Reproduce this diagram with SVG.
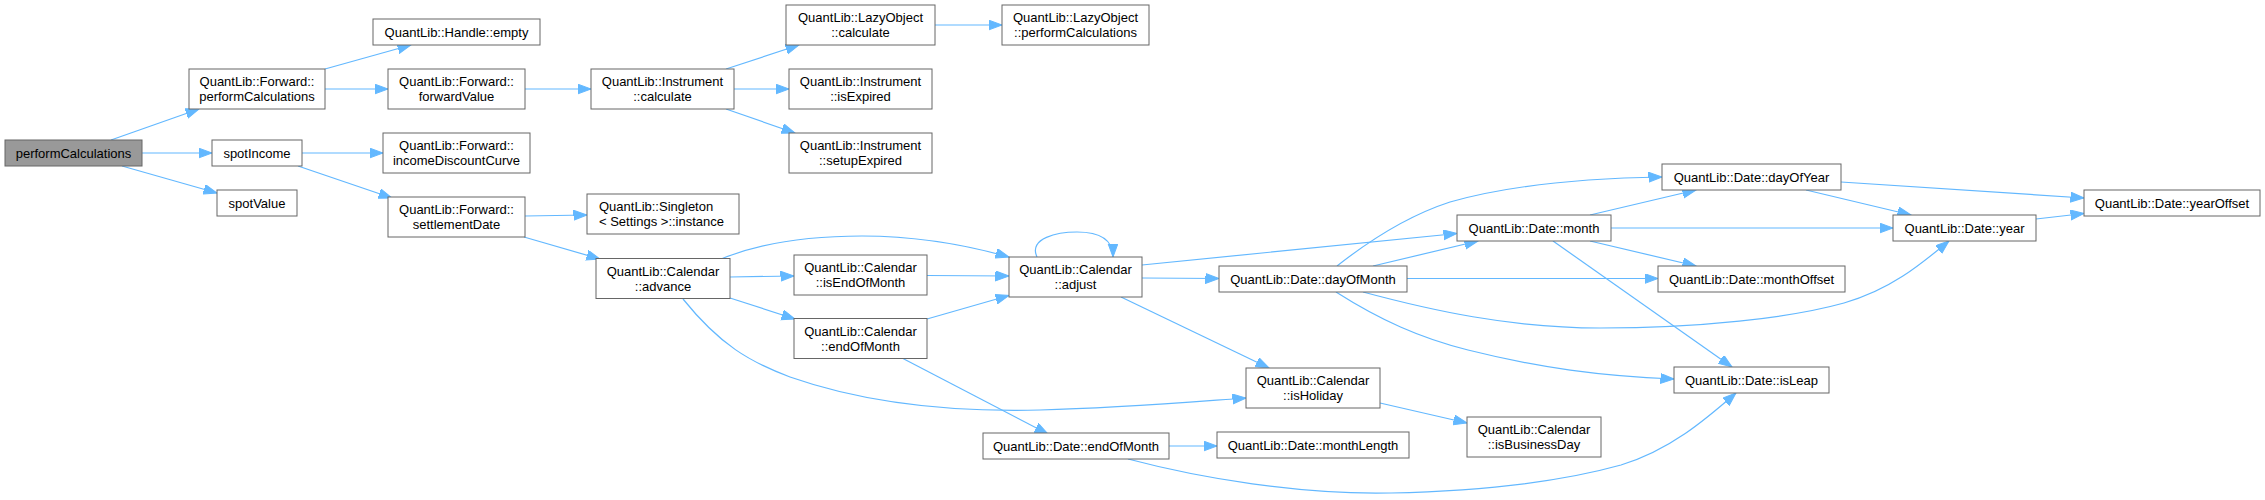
<svg xmlns="http://www.w3.org/2000/svg" width="2265" height="500" viewBox="0 0 2265 500">
<style>
.n rect{fill:#ffffff;stroke:#666666;stroke-width:1}
.n text{font-family:"Liberation Sans",Arial,sans-serif;font-size:13px;fill:#000000;text-anchor:middle}
#root rect{fill:#999999}
.e path{fill:none;stroke:#63b8ff;stroke-width:1.2;marker-end:url(#arr)}
</style>
<defs>
<marker id="arr" markerUnits="userSpaceOnUse" markerWidth="15" markerHeight="11" refX="13.5" refY="5" orient="auto">
<path d="M0,0 L13.5,5 L0,10 z" fill="#63b8ff" stroke="#63b8ff" stroke-width="1"/>
</marker>
</defs>
<rect width="2265" height="500" fill="#ffffff"/>
<g id="edges" class="e">
<path d="M111,140 L199,109"/>
<path d="M142,153 L212,153"/>
<path d="M122,166 L217,193"/>
<path d="M325,69 L411,45"/>
<path d="M325,89 L388,89"/>
<path d="M525,89 L591,89"/>
<path d="M302,153 L383,153"/>
<path d="M298,166 L392,198"/>
<path d="M726,69 L799,45"/>
<path d="M734,89 L789,89"/>
<path d="M726,109 L795,133"/>
<path d="M935,25 L1002,25"/>
<path d="M525,216 L587,215"/>
<path d="M524,237 L600,259"/>
<path d="M721,259 C760,243 810,236 862,236 C920,236 970,246 1009,257"/>
<path d="M730,277 L794,276"/>
<path d="M730,298 L795,319"/>
<path d="M683,299 C720,345 750,362 790,377 C870,405 960,412 1040,410 C1120,408 1190,402 1246,398"/>
<path d="M927,275.5 L1009,276"/>
<path d="M927,319 L1009,295.5"/>
<path d="M902,358 L1048,434"/>
<path d="M1037,257 C1028,238 1058,232 1077,232 C1098,232 1113,238 1113,257"/>
<path d="M1142,265 L1457,233.5"/>
<path d="M1142,278 L1219,278.5"/>
<path d="M1121,297 L1269,368"/>
<path d="M1169,446 L1217,446"/>
<path d="M1128,459 C1200,478 1300,495 1391,493 C1480,491 1560,482 1621,465 C1670,450 1705,420 1736,393"/>
<path d="M1380,403 L1467,423"/>
<path d="M1337,266 C1370,240 1410,215 1450,202 C1520,182 1600,178 1662,177"/>
<path d="M1373,266 L1478,241"/>
<path d="M1407,278.5 L1658,278.5"/>
<path d="M1363,292 C1430,310 1510,328 1600,328 C1700,328 1790,318 1844,303 C1890,290 1920,265 1949,241"/>
<path d="M1336,292 C1380,320 1420,338 1468,350 C1540,368 1600,376 1674,379"/>
<path d="M1590,215 L1696,190"/>
<path d="M1611,228 L1893,228"/>
<path d="M1590,241 L1696,266"/>
<path d="M1553,241 L1732,367"/>
<path d="M1841,182 L2084,198"/>
<path d="M1806,190 L1911,215"/>
<path d="M2036,219 L2084,213.5"/>
</g>
<g id="root" class="n"><rect x="5" y="140" width="137" height="26"/><text x="73.5" y="157.5">performCalculations</text></g>
<g id="fwdPerf" class="n"><rect x="189" y="69" width="136" height="40"/><text x="257" y="86">QuantLib::Forward::</text><text x="257" y="101">performCalculations</text></g>
<g id="handleEmpty" class="n"><rect x="373" y="19" width="167" height="26"/><text x="456.5" y="36.5">QuantLib::Handle::empty</text></g>
<g id="fwdValue" class="n"><rect x="388" y="69" width="137" height="40"/><text x="456.5" y="86">QuantLib::Forward::</text><text x="456.5" y="101">forwardValue</text></g>
<g id="spotIncome" class="n"><rect x="212" y="140" width="90" height="26"/><text x="257" y="157.5">spotIncome</text></g>
<g id="incomeDiscountCurve" class="n"><rect x="383" y="133" width="147" height="40"/><text x="456.5" y="150">QuantLib::Forward::</text><text x="456.5" y="165">incomeDiscountCurve</text></g>
<g id="spotValue" class="n"><rect x="217" y="190" width="80" height="26"/><text x="257" y="207.5">spotValue</text></g>
<g id="settlementDate" class="n"><rect x="388" y="197" width="137" height="40"/><text x="456.5" y="214">QuantLib::Forward::</text><text x="456.5" y="229">settlementDate</text></g>
<g id="instCalc" class="n"><rect x="591" y="69" width="143" height="40"/><text x="662.5" y="86">QuantLib::Instrument</text><text x="662.5" y="101">::calculate</text></g>
<g id="lazyCalc" class="n"><rect x="786" y="5" width="149" height="40"/><text x="860.5" y="22">QuantLib::LazyObject</text><text x="860.5" y="37">::calculate</text></g>
<g id="lazyPerf" class="n"><rect x="1002" y="5" width="147" height="40"/><text x="1075.5" y="22">QuantLib::LazyObject</text><text x="1075.5" y="37">::performCalculations</text></g>
<g id="isExpired" class="n"><rect x="789" y="69" width="143" height="40"/><text x="860.5" y="86">QuantLib::Instrument</text><text x="860.5" y="101">::isExpired</text></g>
<g id="setupExpired" class="n"><rect x="789" y="133" width="143" height="40"/><text x="860.5" y="150">QuantLib::Instrument</text><text x="860.5" y="165">::setupExpired</text></g>
<g id="singleton" class="n"><rect x="587" y="194" width="152" height="40"/><text x="599" y="211" style="text-anchor:start">QuantLib::Singleton</text><text x="599" y="226" style="text-anchor:start">&lt; Settings &gt;::instance</text></g>
<g id="advance" class="n"><rect x="596" y="258.5" width="134" height="40"/><text x="663" y="275.5">QuantLib::Calendar</text><text x="663" y="290.5">::advance</text></g>
<g id="isEndOfMonth" class="n"><rect x="794" y="255" width="133" height="40"/><text x="860.5" y="272">QuantLib::Calendar</text><text x="860.5" y="287">::isEndOfMonth</text></g>
<g id="calEndOfMonth" class="n"><rect x="794" y="318.5" width="133" height="40"/><text x="860.5" y="335.5">QuantLib::Calendar</text><text x="860.5" y="350.5">::endOfMonth</text></g>
<g id="adjust" class="n"><rect x="1009" y="257" width="133" height="40"/><text x="1075.5" y="274">QuantLib::Calendar</text><text x="1075.5" y="289">::adjust</text></g>
<g id="dateEndOfMonth" class="n"><rect x="983" y="433" width="186" height="26"/><text x="1076" y="450.5">QuantLib::Date::endOfMonth</text></g>
<g id="dayOfYear" class="n"><rect x="1662" y="164" width="179" height="26"/><text x="1751.5" y="181.5">QuantLib::Date::dayOfYear</text></g>
<g id="month" class="n"><rect x="1457" y="215" width="154" height="26"/><text x="1534" y="232.5">QuantLib::Date::month</text></g>
<g id="dayOfMonth" class="n"><rect x="1219" y="266" width="188" height="26"/><text x="1313" y="283.5">QuantLib::Date::dayOfMonth</text></g>
<g id="monthOffset" class="n"><rect x="1658" y="266" width="187" height="26"/><text x="1751.5" y="283.5">QuantLib::Date::monthOffset</text></g>
<g id="isHoliday" class="n"><rect x="1246" y="368" width="134" height="40"/><text x="1313" y="385">QuantLib::Calendar</text><text x="1313" y="400">::isHoliday</text></g>
<g id="isLeap" class="n"><rect x="1674" y="367" width="155" height="26"/><text x="1751.5" y="384.5">QuantLib::Date::isLeap</text></g>
<g id="monthLength" class="n"><rect x="1217" y="432" width="192" height="26"/><text x="1313" y="449.5">QuantLib::Date::monthLength</text></g>
<g id="isBusinessDay" class="n"><rect x="1467" y="417" width="134" height="40"/><text x="1534" y="434">QuantLib::Calendar</text><text x="1534" y="449">::isBusinessDay</text></g>
<g id="year" class="n"><rect x="1893" y="215" width="143" height="26"/><text x="1964.5" y="232.5">QuantLib::Date::year</text></g>
<g id="yearOffset" class="n"><rect x="2084" y="190" width="176" height="26"/><text x="2172" y="207.5">QuantLib::Date::yearOffset</text></g>
</svg>
